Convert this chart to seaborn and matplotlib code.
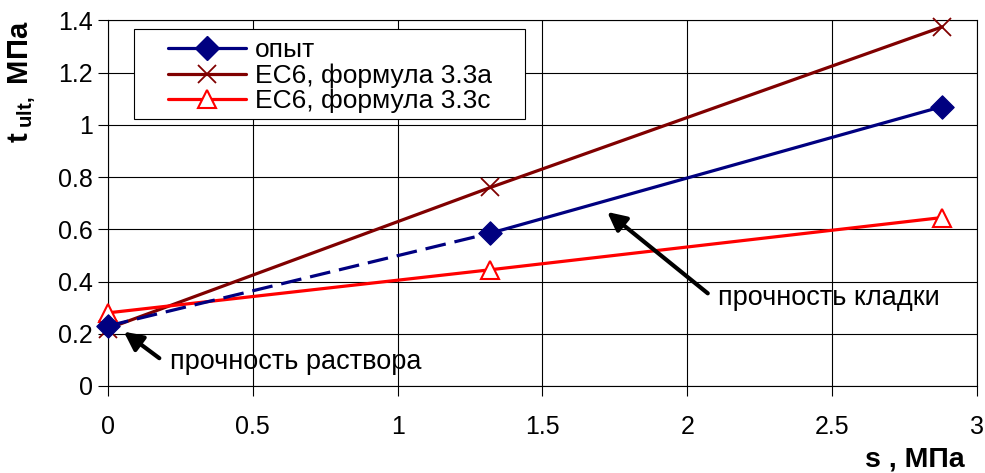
import numpy as np
import pandas as pd
import matplotlib
matplotlib.use("Agg")
import matplotlib.pyplot as plt
import seaborn as sns
from matplotlib.lines import Line2D
from matplotlib.patches import Rectangle

## dados
s_vals = [0.0, 1.32, 2.88]
opyt = [0.23, 0.585, 1.07]
ec6_a = [0.22, 0.76, 1.375]
ec6_c = [0.28, 0.445, 0.645]

x_ticks = [0, 0.5, 1, 1.5, 2, 2.5, 3]
y_ticks = [0, 0.2, 0.4, 0.6, 0.8, 1.0, 1.2, 1.4]
x_tick_labels = ["0", "0.5", "1", "1.5", "2", "2.5", "3"]
y_tick_labels = ["0", "0.2", "0.4", "0.6", "0.8", "1", "1.2", "1.4"]

lbl_opyt = "опыт"
lbl_a = "ЕС6, формула 3.3а"
lbl_c = "ЕС6, формула 3.3с"

sns.set_style("white")
plt.rcParams['font.family'] = ['Liberation Sans', 'DejaVu Sans']
plt.rcParams['mathtext.fontset'] = 'custom'
plt.rcParams['mathtext.rm'] = 'Liberation Sans'
plt.rcParams['mathtext.bf'] = 'Liberation Sans:bold'
plt.rcParams.update({'text.color': 'black', 'xtick.color': 'black',
                     'ytick.color': 'black', 'axes.labelcolor': 'black'})

df = pd.DataFrame({"s": s_vals, "opyt": opyt, "a": ec6_a, "c": ec6_c})

fig = plt.figure(figsize=(9.85, 4.73), dpi=100)
ax = fig.add_axes([0.1096, 0.184, 0.8823, 0.773])

lw = 2.3

sns.lineplot(data=df, x="s", y="a", ax=ax, color="#800000", lw=lw,
             marker="x", markersize=13, markeredgewidth=1.3,
             markeredgecolor="#800000", label=lbl_a, zorder=3, clip_on=False)
sns.lineplot(data=df, x="s", y="c", ax=ax, color="#FF0000", lw=lw,
             marker="^", markersize=13, markeredgewidth=1.5,
             markerfacecolor="white", markeredgecolor="#FF0000",
             label=lbl_c, zorder=3, clip_on=False)

## trecho tracejado (primeiros dois pontos) e contínuo (restante)
sns.lineplot(data=df.iloc[:2], x="s", y="opyt", ax=ax, color="#000080",
             lw=lw, label="_nolegend_", zorder=4, clip_on=False)
ax.lines[-1].set_linestyle((0, (6.5, 2.8)))
sns.lineplot(data=df.iloc[1:], x="s", y="opyt", ax=ax, color="#000080",
             lw=lw, label="_nolegend_", zorder=4, clip_on=False)
sns.scatterplot(data=df, x="s", y="opyt", ax=ax, color="#000080",
                marker="D", s=140, edgecolor="#000080", zorder=5,
                label="_nolegend_", clip_on=False)

ax.set_xlim(0, 3)
ax.set_ylim(0, 1.4)
ax.set_xticks(x_ticks)
ax.set_xticklabels(x_tick_labels)
ax.set_yticks(y_ticks)
ax.set_yticklabels(y_tick_labels)
ax.tick_params(axis="both", labelsize=18, direction="out", length=7,
               width=0.8, color="black", labelcolor="black")
ax.tick_params(axis="x", pad=14, bottom=True)
ax.tick_params(axis="y", pad=4, left=True)
ax.grid(True, color="black", lw=0.8)
for sp in ax.spines.values():
    sp.set_color("black")
    sp.set_linewidth(0.8)
ax.set_xlabel("")
ax.set_ylabel("")

## legenda (moldura desenhada à parte)
ax.add_patch(Rectangle((0.03, 0.7295), 0.45, 0.246, transform=ax.transAxes,
                       facecolor="white", edgecolor="black", lw=0.8,
                       zorder=6))
handles = [
    Line2D([], [], color="#000080", lw=lw, marker="D", markersize=12),
    Line2D([], [], color="#800000", lw=lw, marker="x", markersize=13,
           markeredgewidth=1.3),
    Line2D([], [], color="#FF0000", lw=lw, marker="^", markersize=13,
           markerfacecolor="white", markeredgewidth=1.5),
]
leg = ax.legend(handles, [lbl_opyt, lbl_a, lbl_c], loc="upper left",
                bbox_to_anchor=(0.069, 0.951), fontsize=19, frameon=False,
                handlelength=2.95, labelspacing=0.04, borderpad=0,
                handletextpad=0.35, borderaxespad=0)
leg.set_zorder(7)

## anotações
ax.annotate("", xy=(0.047, 0.214), xytext=(0.185, 0.10),
            arrowprops=dict(arrowstyle="-|>", color="black", lw=3,
                            mutation_scale=28))
ax.text(0.214, 0.093, "прочность раствора", fontsize=19.5, va="center", ha="left")

ax.annotate("", xy=(1.716, 0.673), xytext=(2.078, 0.348),
            arrowprops=dict(arrowstyle="-|>", color="black", lw=3,
                            mutation_scale=28))
ax.text(2.106, 0.337, "прочность кладки", fontsize=19.5, va="center", ha="left")

fig.text(22 / 985, 1 - 20 / 473, r"$\mathbf{t}_{\;\mathbf{ult,}}$ МПа",
         rotation=90, va="top", ha="center", fontsize=21, fontweight="bold")
fig.text(965 / 985, 1 - 459 / 473, "s , МПа", ha="right", va="center",
         fontsize=20.5, fontweight="bold")

plt.savefig("out.png", dpi=100)
